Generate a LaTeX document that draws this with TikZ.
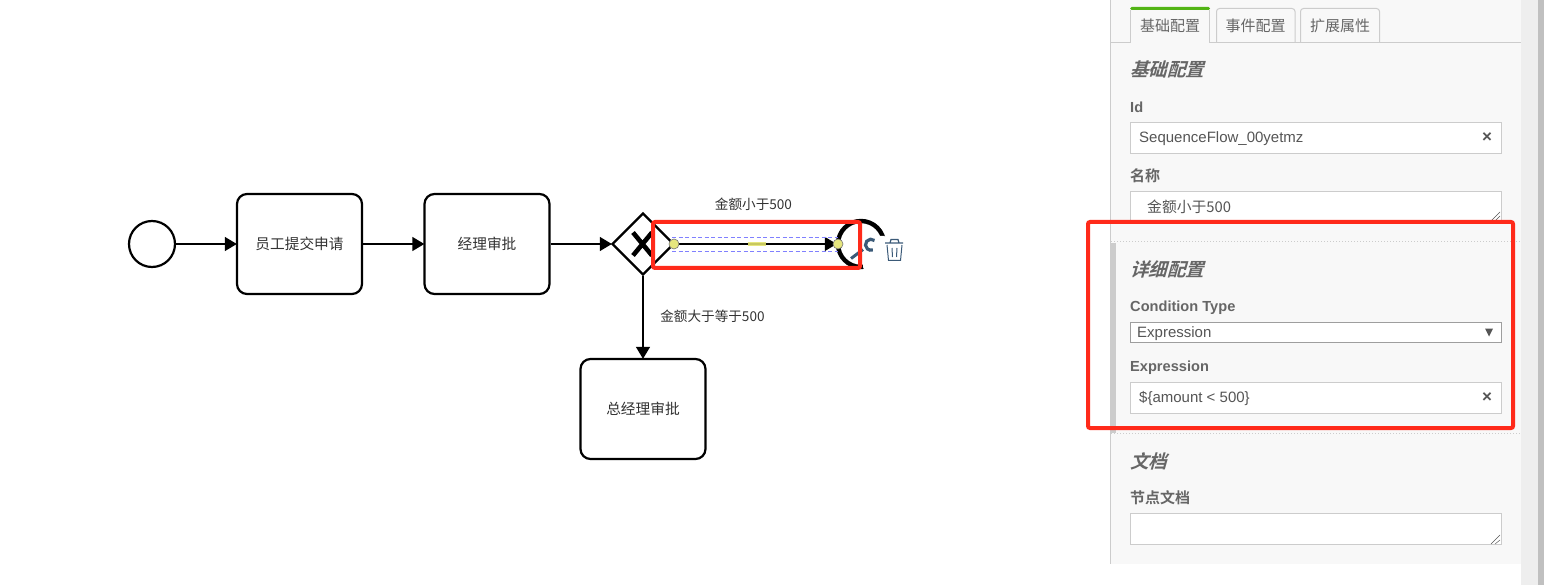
\documentclass[tikz,border=0pt]{standalone}
\usepackage{fontspec}
\setmainfont{Liberation Sans}
\newfontfamily\cjk{Noto Sans CJK SC}
\newfontfamily\cjkhead[FakeSlant=0.28]{Noto Sans CJK SC Bold}
\newfontfamily\cjkbold{Noto Sans CJK SC Bold}
\usetikzlibrary{arrows.meta,shapes.geometric}
\definecolor{redmark}{HTML}{FF2A1A}
\definecolor{panelbg}{HTML}{F8F8F8}
\definecolor{edgegray}{HTML}{CCCCCC}
\definecolor{labelgray}{HTML}{666666}
\definecolor{fieldtext}{HTML}{555555}
\definecolor{trackgray}{HTML}{EEEEEE}
\definecolor{thumbgray}{HTML}{C0C0C0}
\definecolor{icon}{HTML}{3B5A78}
\definecolor{handle}{HTML}{E6E67E}
\definecolor{tabgreen}{HTML}{52B415}
\definecolor{selblue}{HTML}{8080FF}
\definecolor{olive}{HTML}{C8C860}
\tikzset{
  x=1pt,y=-1pt,
  bpmn/.style={draw=black,line width=2.2pt,fill=white,inner sep=0pt},
  taskbox/.style={bpmn,rectangle,rounded corners=10pt,minimum width=125pt,minimum height=100pt,font=\cjk\fontsize{14.7}{16}\selectfont,text=black!80},
  flow/.style={line width=2.6pt,draw=black,shorten >=-1pt,-{Triangle[length=12pt,width=13.5pt]}},
  flowlabel/.style={inner sep=0pt,font=\cjk\fontsize{13.6}{16}\selectfont,text=black!80},
  redbox/.style={draw=redmark,line width=4pt,rounded corners=2pt},
  field/.style={draw=edgegray,line width=1pt,fill=white},
  tabbox/.style={draw=edgegray,line width=1pt,fill=panelbg,rounded corners=3pt},
  tabtext/.style={inner sep=0pt,font=\cjk\fontsize{15}{17}\selectfont,text=labelgray},
  headtext/.style={inner sep=0pt,anchor=west,font=\cjkhead\fontsize{18.5}{20}\selectfont,text=labelgray},
  fieldlabel/.style={inner sep=0pt,anchor=west,font=\bfseries\fontsize{14.6}{17}\selectfont,text=labelgray},
  cjklabel/.style={inner sep=0pt,anchor=west,font=\cjkbold\fontsize{15}{17}\selectfont,text=labelgray},
  valuetext/.style={inner sep=0pt,anchor=west,font=\fontsize{15}{17}\selectfont,text=fieldtext},
  clearx/.style={inner sep=0pt,font=\bfseries\fontsize{17}{18}\selectfont,text=fieldtext},
  grip/.style={draw=fieldtext,line width=.5pt},
  endpoint/.style={circle,draw=black!55,line width=.6pt,fill=handle,minimum size=10pt,inner sep=0pt},
  selbox/.style={draw=selblue,line width=.8pt,dash pattern=on 4pt off 2.5pt},
}
\begin{document}
\begin{tikzpicture}
\useasboundingbox (0,0) rectangle (1544,585);
\fill[white] (0,0) rectangle (1544,585);
% properties panel
\fill[panelbg] (1110,0) rectangle (1521,564);
\draw[edgegray,line width=1pt] (1110.5,0) -- (1110.5,564);
\fill[trackgray] (1521,0) rectangle (1538,585);
\fill[thumbgray] (1538,0) rectangle (1544,585);
% tabs
\draw[edgegray,line width=1pt] (1110,42.5) -- (1521,42.5);
\draw[tabbox] (1216.5,42) -- (1216.5,8.5) -- (1295,8.5) -- (1295,42);
\draw[tabbox] (1300.5,42) -- (1300.5,8.5) -- (1379.5,8.5) -- (1379.5,42);
\fill[panelbg] (1130.5,8) rectangle (1209.5,44);
\draw[edgegray,line width=1pt] (1130.5,43) -- (1130.5,10);
\draw[edgegray,line width=1pt] (1209.5,43) -- (1209.5,10);
\fill[tabgreen,rounded corners=1.5pt] (1130,7) rectangle (1210,10);
\node[tabtext] (tabA) at (1170,26) {基础配置};
\node[tabtext] (tabB) at (1255.5,26) {事件配置};
\node[tabtext] (tabC) at (1340,26) {扩展属性};
% basic section
\node[headtext] (headA) at (1130,69) {基础配置};
\node[fieldlabel] (idLabel) at (1130,107) {Id};
\draw[field] (1130.5,122.5) rectangle (1501.5,153.5);
\node[valuetext] (idValue) at (1139,139) {SequenceFlow\_00yetmz};
\node[clearx] (idClear) at (1487,137.5) {×};
\node[cjklabel] (nameLabel) at (1130,176) {名称};
\draw[field] (1130.5,191.5) rectangle (1501.5,222);
\node[inner sep=0pt,anchor=west,font=\cjk\fontsize{14.8}{17}\selectfont,text=fieldtext] (nameValue) at (1147,207) {金额小于500};
\draw[grip] (1491,221) -- (1500,212) (1495,221) -- (1500,216);
% detail section
\draw[edgegray,line width=1pt,dotted] (1111,241.5) -- (1521,241.5);
\draw[edgegray,line width=1pt,dotted] (1111,433.5) -- (1521,433.5);
\fill[edgegray] (1110,243) rectangle (1116,433);
\node[headtext] (headB) at (1130,269) {详细配置};
\node[fieldlabel] (typeLabel) at (1130,308) {Condition Type};
\draw[draw=black!38,line width=1pt,fill=white] (1130.5,322.5) rectangle (1501.5,342.5);
\node[valuetext] (typeValue) at (1137,334) {Expression};
\fill[fieldtext] (1485,328.5) -- (1493,328.5) -- (1489,336.5) -- cycle;
\node[fieldlabel] (exprLabel) at (1130,368) {Expression};
\draw[field] (1130.5,382.5) rectangle (1501.5,413.5);
\node[valuetext] (exprValue) at (1139,399) {\$\{amount < 500\}};
\node[clearx] (exprClear) at (1487,397.5) {×};
% documentation section
\node[headtext] (headC) at (1130,461) {文档};
\node[cjklabel] (docLabel) at (1130,497.5) {节点文档};
\draw[field] (1130.5,513.5) rectangle (1501.5,544.5);
\draw[grip] (1491,544) -- (1500,535) (1495,544) -- (1500,540);
% end event and its pad
\node[bpmn,circle,draw=black,line width=4.4pt,minimum size=46pt] (endEv) at (861,244) {};
\fill[white,rounded corners=3pt] (863,236) rectangle (887,270);
% diagram
\node[bpmn,circle,minimum size=46pt] (start) at (152,244) {};
\node[taskbox] (t1) at (299.5,244) {\raisebox{-.6pt}{员工提交申请}};
\node[taskbox] (t2) at (487,244) {\raisebox{-.6pt}{经理审批}};
\node[taskbox] (t3) at (643,409) {\raisebox{-.6pt}{总经理审批}};
\node[bpmn,diamond,minimum width=62pt,minimum height=62pt] (gw) at (643,244) {};
\draw[line width=4.6pt,black] (633,232.5) -- (652,255.5) (652,232.5) -- (633,255.5);
\draw[flow] (start) -- (t1);
\draw[flow] (t1) -- (t2);
\draw[flow] (t2) -- (gw);
\draw[flow] (gw) -- (endEv);
\draw[flow] (gw) -- (t3);
\node[flowlabel] (l1) at (753.5,204.5) {金额小于500};
\node[flowlabel] (l2) at (712.5,316.5) {金额大于等于500};
% selection overlay
\draw[selbox] (672,237) -- (838,237) (672,251) -- (838,251);
\fill[handle] (748,242) rectangle (766,246);
\fill[olive] (748,243) rectangle (766,245);
\node[endpoint] (h1) at (674,244) {};
\node[endpoint] (h2) at (838,244) {};
% pad icons
\draw[icon,line width=3pt] (851,258.5) -- (863,249.5);
\draw[icon,line width=3.2pt] (874.5,240.5) arc[start angle=-50,end angle=-290,radius=5.5];
\draw[icon,line width=1pt,fill=white] (887,245) -- (888.5,260.5) -- (900.5,260.5) -- (902,245);
\draw[icon,line width=1.2pt] (885,243) -- (903,243) (890,243) -- (891,239.5) -- (898,239.5) -- (899,243);
\draw[icon,line width=1pt] (892,248) -- (892.5,257) (897,248) -- (896.5,257);
% red highlights
\draw[redbox] (653,222) rectangle (860,268);
\draw[redbox] (1088,222) rectangle (1513,428);
\end{tikzpicture}
\end{document}
